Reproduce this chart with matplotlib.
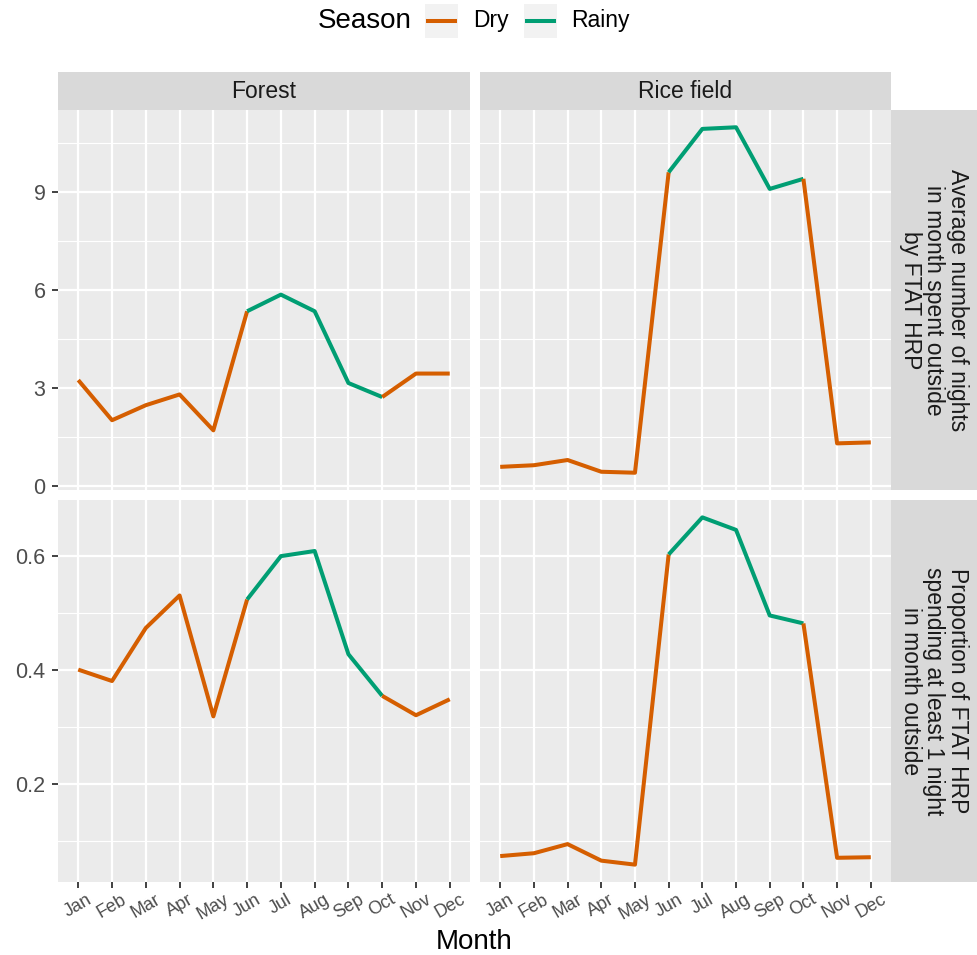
#!/usr/bin/env python3
"""
Seasonal travel chart
Facet grid of monthly values by site (Forest / Rice field), coloured by season.
"""

import matplotlib
matplotlib.use("Agg")
import matplotlib.pyplot as plt
from matplotlib.patches import Rectangle
from matplotlib.lines import Line2D
from matplotlib.ticker import MultipleLocator, FixedLocator

plt.rcParams['font.family'] = ['Liberation Sans', 'DejaVu Sans']

# Data
months = ['Jan', 'Feb', 'Mar', 'Apr', 'May', 'Jun',
          'Jul', 'Aug', 'Sep', 'Oct', 'Nov', 'Dec']
season = ['Dry', 'Dry', 'Dry', 'Dry', 'Dry',
          'Rainy', 'Rainy', 'Rainy', 'Rainy',
          'Dry', 'Dry', 'Dry']

sites = ['Forest', 'Rice field']
row_labels = ['Average number of nights\nin month spent outside\nby FTAT HRP',
              'Proportion of FTAT HRP\nspending at least 1 night\nin month outside']

forest_nights = [3.24, 2.01, 2.47, 2.80, 1.70, 5.35, 5.86, 5.35, 3.15, 2.72, 3.44, 3.44]
rice_nights = [0.58, 0.63, 0.79, 0.43, 0.40, 9.61, 10.94, 10.99, 9.10, 9.41, 1.30, 1.33]
forest_prop = [0.401, 0.381, 0.474, 0.531, 0.319, 0.524, 0.600, 0.609, 0.428, 0.355, 0.321, 0.349]
rice_prop = [0.074, 0.079, 0.095, 0.066, 0.059, 0.603, 0.668, 0.646, 0.496, 0.482, 0.071, 0.072]

season_colors = {'Dry': '#D55E00', 'Rainy': '#009E73'}

# Layout in pixels of the 977x955 figure
W, H = 977, 955
col_px = [(58, 470), (480, 891)]
row_px = [(110, 490), (500, 882)]
strip_top = (72, 110)
strip_right = (891, 977)

PANEL_BG = '#EBEBEB'
STRIP_BG = '#D9D9D9'
TICK_COLOR = '#4D4D4D'
SMALL = 16.5
LARGE = 20


def rect(x0, y0, x1, y1):
    """Pixel box (top-left origin) -> figure fraction rect."""
    return [x0 / W, 1 - y1 / H, (x1 - x0) / W, (y1 - y0) / H]


def draw_series(ax, values):
    """Draw line segments, each coloured by the season of its start point."""
    x = list(range(1, len(values) + 1))
    start = 0
    for i in range(1, len(values)):
        if i == len(values) - 1 or season[i] != season[start]:
            end = i
            ax.plot(x[start:end + 1], values[start:end + 1],
                    color=season_colors[season[start]], lw=2.9,
                    solid_joinstyle='round', solid_capstyle='butt', zorder=3)
            start = i


def style_panel(ax, ylim, major, minor, show_x, show_y):
    ax.set_facecolor(PANEL_BG)
    for s in ax.spines.values():
        s.set_visible(False)
    ax.set_xlim(0.4, 12.6)
    ax.set_ylim(*ylim)
    ax.xaxis.set_major_locator(FixedLocator(range(1, 13)))
    ax.yaxis.set_major_locator(MultipleLocator(major))
    ax.yaxis.set_minor_locator(MultipleLocator(minor))
    ax.grid(which='major', color='white', lw=1.6, zorder=0)
    ax.grid(which='minor', axis='y', color='white', lw=0.8, zorder=0)
    ax.set_axisbelow(True)
    ax.tick_params(which='minor', length=0)
    ax.tick_params(which='major', length=4, width=1.3, color='#333333',
                   labelcolor=TICK_COLOR)
    ax.tick_params(axis='y', labelsize=15.5, pad=5)
    ax.tick_params(axis='x', labelsize=13, pad=2.5)
    if show_x:
        ax.set_xticklabels(months, rotation=30, ha='center')
    else:
        ax.tick_params(axis='x', length=0, labelbottom=False)
    if not show_y:
        ax.tick_params(axis='y', length=0, labelleft=False)


def expand(values):
    lo = min(min(v) for v in values)
    hi = max(max(v) for v in values)
    pad = (hi - lo) * 0.05
    return lo - pad, hi + pad


def strip_axes(box):
    sax = fig.add_axes(rect(*box))
    sax.set_facecolor(STRIP_BG)
    sax.set_xticks([])
    sax.set_yticks([])
    for s in sax.spines.values():
        s.set_visible(False)
    return sax


fig = plt.figure(figsize=(W / 100, H / 100), dpi=100)

grid_data = [[forest_nights, rice_nights], [forest_prop, rice_prop]]
row_ticks = [(3, 1.5), (0.2, 0.1)]

for r, (y0, y1) in enumerate(row_px):
    ylim = expand(grid_data[r])
    for c, (x0, x1) in enumerate(col_px):
        ax = fig.add_axes(rect(x0, y0, x1, y1))
        draw_series(ax, grid_data[r][c])
        style_panel(ax, ylim, row_ticks[r][0], row_ticks[r][1],
                    show_x=(r == 1), show_y=(c == 0))

    # right-hand strip for this row
    sax = strip_axes((strip_right[0], y0, strip_right[1], y1))
    sax.text(0.5, 0.5, row_labels[r], rotation=-90, ha='center', va='center',
             fontsize=SMALL, color='#1A1A1A', linespacing=1.05,
             transform=sax.transAxes)

# top strips
for c, (x0, x1) in enumerate(col_px):
    sax = strip_axes((x0, strip_top[0], x1, strip_top[1]))
    sax.text(0.5, 0.5, sites[c], ha='center', va='center', fontsize=SMALL,
             color='#1A1A1A', transform=sax.transAxes)

# x axis title
fig.text((col_px[0][0] + col_px[1][1]) / 2 / W, 1 - 942 / H, 'Month',
         ha='center', va='center', fontsize=LARGE)

# legend across the top (ggplot style: title on the left, grey key boxes)
fig.text(318 / W, 1 - 21 / H, 'Season', ha='left', va='center', fontsize=LARGE)
keys = [('Dry', 425, 473), ('Rainy', 524, 571)]
for name, kx, tx in keys:
    fig.patches.append(Rectangle((kx / W, 1 - 38 / H), 33 / W, 34 / H,
                                 transform=fig.transFigure, facecolor='#F2F2F2',
                                 edgecolor='none'))
    fig.lines.append(Line2D([(kx + 3) / W, (kx + 30) / W], [1 - 21 / H, 1 - 21 / H],
                            transform=fig.transFigure, color=season_colors[name],
                            lw=2.9))
    fig.text(tx / W, 1 - 21 / H, name, ha='left', va='center', fontsize=SMALL)

fig.savefig('out.png', dpi=100, facecolor='white')
